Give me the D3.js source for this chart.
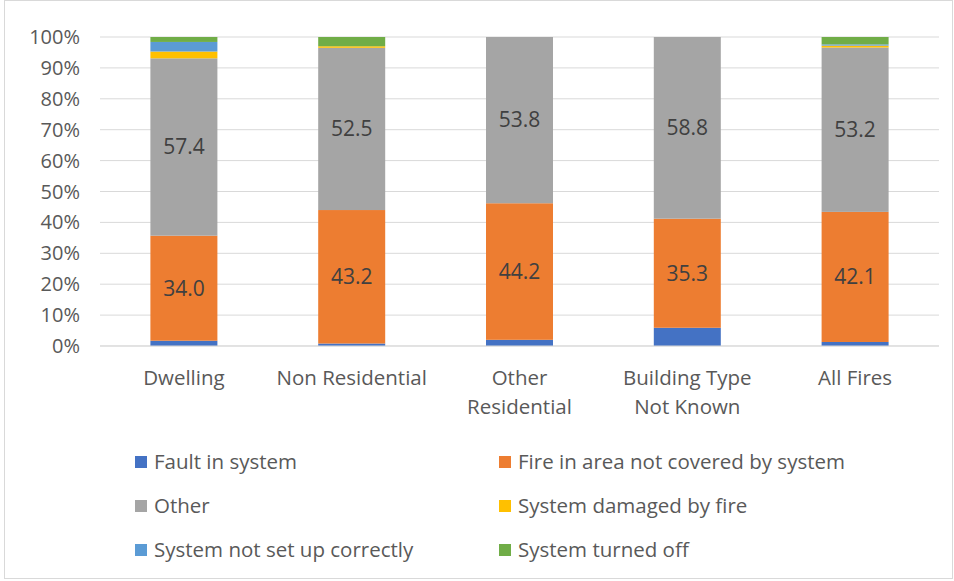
<!DOCTYPE html>
<html><head><meta charset="utf-8">
<script src="https://cdn.jsdelivr.net/npm/d3@7"></script>
<style>body{margin:0;background:#fff}svg{font-family:"Open Sans",sans-serif}</style>
</head><body><svg id="c" width="954" height="581"></svg>
<script>
const categories = [["Dwelling"],["Non Residential"],["Other","Residential"],["Building Type","Not Known"],["All Fires"]];
const seriesNames = ["Fault in system","Fire in area not covered by system","Other","System damaged by fire","System not set up correctly","System turned off"];
const seriesColors = ["#4472C4","#ED7D31","#A5A5A5","#FFC000","#5B9BD5","#70AD47"];
const fault      = [1.7, 0.8, 2.0, 5.9, 1.3];
const notCovered = [34.0, 43.2, 44.2, 35.3, 42.1];
const other      = [57.4, 52.5, 53.8, 58.8, 53.2];
const damaged    = [2.2, 0.5, 0, 0, 0.6];
const notSetUp   = [3.1, 0, 0, 0, 0.4];
const turnedOff  = [1.6, 3.0, 0, 0, 2.4];
const yTicks = [0,10,20,30,40,50,60,70,80,90,100];
const labelled = [1,2];

const series = [fault, notCovered, other, damaged, notSetUp, turnedOff];
const svg = d3.select("#c");
svg.append("rect").attr("x",4.5).attr("y",0.5).attr("width",948).attr("height",578).attr("fill","none").attr("stroke","#d9d9d9");

const x = d3.scaleBand().domain(d3.range(categories.length)).range([100,939]).paddingInner(0.6).paddingOuter(0.3);
const y = d3.scaleLinear().domain([0,100]).range([346,37]);

svg.append("g").selectAll("line").data(yTicks).join("line")
  .attr("x1",100).attr("x2",939).attr("y1",d=>y(d)).attr("y2",d=>y(d))
  .attr("stroke","#d9d9d9").attr("stroke-width",1);

svg.append("g").selectAll("text").data(yTicks).join("text")
  .attr("x",80).attr("y",d=>y(d)).attr("dy","0.35em").attr("text-anchor","end")
  .attr("font-size",20).attr("fill","#595959").text(d=>d+"%");

const rows = categories.map((c,i)=>{const o={i}; series.forEach((s,k)=>o[k]=s[i]); return o;});
const stack = d3.stack().keys(d3.range(series.length))(rows);
const bw = 67;
stack.forEach((layer,k)=>{
  svg.append("g").selectAll("rect").data(layer).join("rect")
    .attr("x",d=>x(d.data.i)+x.bandwidth()/2-bw/2).attr("width",bw)
    .attr("y",d=>y(d[1])).attr("height",d=>Math.max(0,y(d[0])-y(d[1])))
    .attr("fill",seriesColors[k]);
  if(labelled.includes(k)){
    svg.append("g").selectAll("text").data(layer).join("text")
      .attr("x",d=>x(d.data.i)+x.bandwidth()/2).attr("y",d=>y((d[0]+d[1])/2)).attr("dy","0.35em")
      .attr("text-anchor","middle").attr("font-size",21).attr("fill","#404040")
      .text(d=>(d[1]-d[0]).toFixed(1));
  }
});
svg.append("line").attr("x1",100).attr("x2",939).attr("y1",y(0)).attr("y2",y(0)).attr("stroke","#d9d9d9");

categories.forEach((lines,i)=>{
  const t = svg.append("text").attr("text-anchor","middle").attr("font-size",20.5).attr("fill","#595959");
  lines.forEach((l,j)=>t.append("tspan").attr("x",x(i)+x.bandwidth()/2).attr("y",385+j*29).text(l));
});

const lg = svg.append("g");
seriesNames.forEach((n,k)=>{
  const col = k%2, row = Math.floor(k/2);
  const lx = col===0?135:499, ly = 462+row*44;
  lg.append("rect").attr("x",lx).attr("y",ly-6).attr("width",12).attr("height",12).attr("fill",seriesColors[k]);
  lg.append("text").attr("x",lx+19).attr("y",ly).attr("dy","0.35em").attr("font-size",20.5).attr("fill","#595959").text(n);
});
</script></body></html>
